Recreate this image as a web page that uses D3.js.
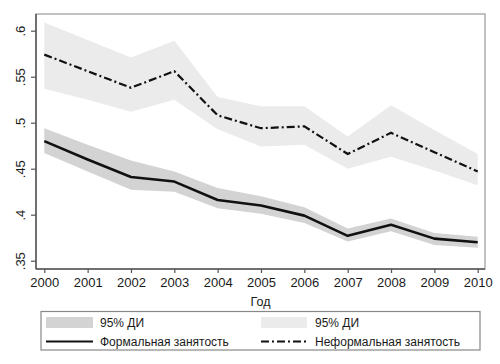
<!DOCTYPE html>
<html><head><meta charset="utf-8">
<script src="https://cdn.jsdelivr.net/npm/d3@7"></script>
<style>body{margin:0;background:#fff}svg{display:block}text{font-family:"Liberation Sans",Arial,sans-serif;fill:#1a1a1a}</style>
</head><body>
<script>
const years = [2000,2001,2002,2003,2004,2005,2006,2007,2008,2009,2010];
const formal   = [0.480,0.460,0.441,0.436,0.416,0.410,0.399,0.377,0.389,0.374,0.370];
const formalLo = [0.467,0.447,0.427,0.425,0.407,0.401,0.391,0.371,0.382,0.367,0.364];
const formalHi = [0.494,0.476,0.459,0.447,0.429,0.420,0.408,0.385,0.396,0.380,0.376];
const informal   = [0.574,0.556,0.538,0.556,0.508,0.494,0.496,0.466,0.489,0.468,0.447];
const informalLo = [0.537,0.525,0.512,0.525,0.493,0.474,0.476,0.450,0.463,0.448,0.432];
const informalHi = [0.609,0.590,0.571,0.589,0.528,0.518,0.518,0.485,0.519,0.492,0.466];
const yTicks = [0.35,0.4,0.45,0.5,0.55,0.6];
const yTickLabels = [".35",".4",".45",".5",".55",".6"];
const xLabel = "Год";
const legendLabels = ["95% ДИ","95% ДИ","Формальная занятость","Неформальная занятость"];

const W=500,H=364;
const L=36,R=485,T=14,B=269;
const svg=d3.select("body").append("svg").attr("width",W).attr("height",H);
const x=d3.scaleLinear().domain([2000,2010]).range([44.3,477.7]);
const y=d3.scaleLinear().domain([0.35,0.6]).range([260.7,30.7]);
const dashDot="8,3,2,3";

// frame
svg.append("rect").attr("x",L).attr("y",T).attr("width",R-L).attr("height",B-T)
  .attr("fill","none").attr("stroke","#9a9a9a").attr("stroke-width",1.2);

const idx=d3.range(years.length);
const area=(lo,hi)=>d3.area().x(i=>x(years[i])).y0(i=>y(lo[i])).y1(i=>y(hi[i]));
svg.append("path").attr("d",area(informalLo,informalHi)(idx)).attr("fill","#ebebeb");
svg.append("path").attr("d",area(formalLo,formalHi)(idx)).attr("fill","#d3d3d3");
const line=v=>d3.line().x(i=>x(years[i])).y(i=>y(v[i]));
svg.append("path").attr("d",line(formal)(idx)).attr("fill","none").attr("stroke","#111").attr("stroke-width",2.6).attr("stroke-linejoin","round");
svg.append("path").attr("d",line(informal)(idx)).attr("fill","none").attr("stroke","#111").attr("stroke-width",2.2).attr("stroke-dasharray",dashDot);

// axes
const yAx=svg.append("g").attr("transform",`translate(${L},0)`)
  .call(d3.axisLeft(y).tickValues(yTicks).tickFormat((d,i)=>yTickLabels[i]).tickSize(5).tickPadding(4));
yAx.select(".domain").attr("d",`M0,${T}V${B}`).attr("stroke","#555").attr("stroke-width",1.5);
yAx.selectAll(".tick line").attr("stroke","#555").attr("stroke-width",1.2);
yAx.selectAll(".tick text").attr("font-size",13).attr("text-anchor","middle").attr("dy","0")
  .attr("x",0).attr("y",0).attr("transform","translate(-11,0) rotate(-90)")
  .attr("font-family","Liberation Sans, Arial, sans-serif").attr("fill","#1a1a1a");

const xAx=svg.append("g").attr("transform",`translate(0,${B})`)
  .call(d3.axisBottom(x).tickValues(years).tickFormat(d3.format("d")).tickSize(4).tickPadding(5));
xAx.select(".domain").attr("d",`M${L},0H${R}`).attr("stroke","#555").attr("stroke-width",1.5);
xAx.selectAll(".tick line").attr("stroke","#555").attr("stroke-width",1.2);
xAx.selectAll(".tick text").attr("font-size",13).attr("font-family","Liberation Sans, Arial, sans-serif").attr("fill","#1a1a1a");

svg.append("text").attr("x",(L+R)/2).attr("y",306).attr("text-anchor","middle").attr("font-size",12.5).text(xLabel);

// legend
const lg=svg.append("g");
lg.append("rect").attr("x",41).attr("y",311.5).attr("width",439).attr("height",38.5).attr("fill","#fff").attr("stroke","#888").attr("stroke-width",1.2);
lg.append("rect").attr("x",46).attr("y",317).attr("width",47).attr("height",11).attr("fill","#d3d3d3");
lg.append("rect").attr("x",261).attr("y",317).attr("width",46).attr("height",11).attr("fill","#ebebeb");
lg.append("line").attr("x1",46).attr("x2",93).attr("y1",341.5).attr("y2",341.5).attr("stroke","#111").attr("stroke-width",2);
lg.append("line").attr("x1",261).attr("x2",307).attr("y1",341.5).attr("y2",341.5).attr("stroke","#111").attr("stroke-width",2).attr("stroke-dasharray",dashDot);
const lpos=[[100,327],[315,327],[100,346],[315,346]];
legendLabels.forEach((t,i)=>lg.append("text").attr("x",lpos[i][0]).attr("y",lpos[i][1]).attr("font-size",12).text(t));
</script>
</body></html>
